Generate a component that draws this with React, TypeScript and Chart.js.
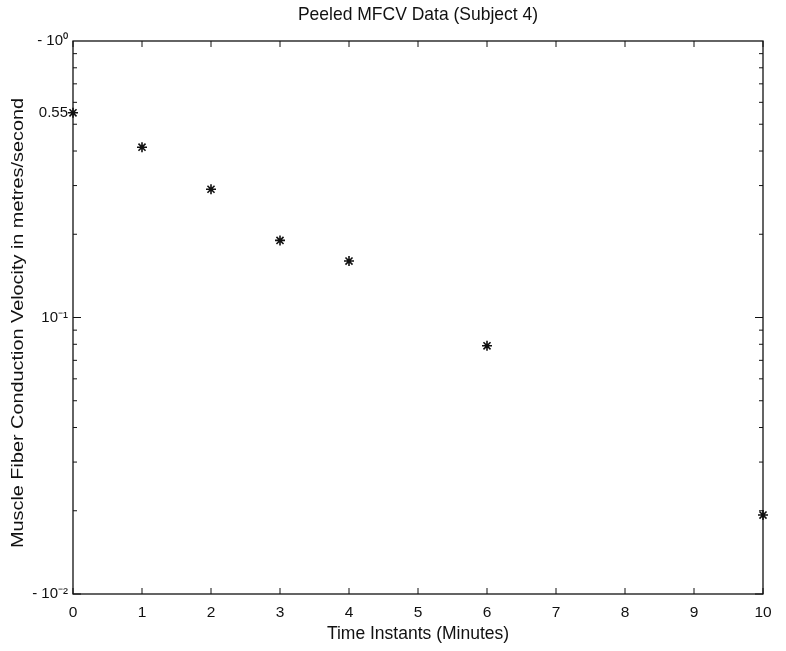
import React, { useEffect, useRef } from "react";
import { Chart, registerables } from "chart.js";

Chart.register(...registerables);

const chartTitle = "Peeled MFCV Data (Subject 4)";
const xAxisTitle = "Time Instants (Minutes)";
const yAxisTitle = "Muscle Fiber Conduction Velocity in metres/second";

const timeMinutes = [0, 1, 2, 3, 4, 6, 10];
const mfcv = [0.55, 0.413, 0.291, 0.19, 0.16, 0.079, 0.0193];

const xTicks = [0, 1, 2, 3, 4, 5, 6, 7, 8, 9, 10];
const yTickValues = [0.01, 0.1, 0.55, 1];
const yTickLabels = ["- 10\u207B\u00B2", "10\u207B\u00B9", "0.55", "- 10\u2070"];
const yDecades = [0.01, 0.1];
const yMinorMultipliers = [2, 3, 4, 5, 6, 7, 8, 9];

const FONT = "'Liberation Sans', Arial, sans-serif";

const frameTicks = {
  id: "frameTicks",
  afterDatasetsDraw(chart: any) {
    const { ctx, chartArea, scales } = chart;
    const { left, right, top, bottom } = chartArea;
    const xs = scales.x;
    const ys = scales.y;
    ctx.save();
    ctx.strokeStyle = "#111";
    ctx.lineWidth = 1.3;
    ctx.strokeRect(left, top, right - left, bottom - top);
    ctx.lineWidth = 1;
    ctx.beginPath();
    for (const v of xTicks) {
      const px = xs.getPixelForValue(v);
      ctx.moveTo(px, bottom);
      ctx.lineTo(px, bottom - 6);
      ctx.moveTo(px, top);
      ctx.lineTo(px, top + 6);
    }
    for (const d of yDecades) {
      const py = ys.getPixelForValue(d);
      ctx.moveTo(left, py);
      ctx.lineTo(left + 8, py);
      ctx.moveTo(right, py);
      ctx.lineTo(right - 8, py);
      for (const m of yMinorMultipliers) {
        const pm = ys.getPixelForValue(m * d);
        ctx.moveTo(left, pm);
        ctx.lineTo(left + 4, pm);
        ctx.moveTo(right, pm);
        ctx.lineTo(right - 4, pm);
      }
    }
    ctx.stroke();

    ctx.fillStyle = "#111";
    ctx.textAlign = "center";
    ctx.textBaseline = "middle";

    ctx.save();
    ctx.font = `17.5px ${FONT}`;
    ctx.translate((left + right) / 2, 15);
    ctx.scale(1, 1.1);
    ctx.fillText(chartTitle, 0, 0);
    ctx.restore();

    ctx.save();
    ctx.font = `16px ${FONT}`;
    const w = ctx.measureText(yAxisTitle).width;
    const target = 450;
    ctx.translate(19, 323);
    ctx.rotate(-Math.PI / 2);
    ctx.scale(target / w, 1);
    ctx.fillText(yAxisTitle, 0, 0);
    ctx.restore();
    ctx.restore();
  },
};

export default function App() {
  const ref = useRef<HTMLCanvasElement | null>(null);
  useEffect(() => {
    document.body.style.margin = "0";
    const canvas = ref.current;
    if (!canvas) return;
    const chart = new Chart(canvas, {
      type: "scatter",
      data: {
        datasets: [
          {
            label: "MFCV",
            data: timeMinutes.map((t, i) => ({ x: t, y: mfcv[i] })),
            pointStyle: "star",
            pointRadius: 5,
            pointBorderWidth: 1.6,
            borderColor: "#111",
            backgroundColor: "#111",
            showLine: false,
            clip: false as any,
          },
        ],
      },
      options: {
        responsive: false,
        animation: false,
        devicePixelRatio: 1,
        layout: { padding: { left: 0, right: 23, top: 41, bottom: 0 } },
        plugins: {
          legend: { display: false },
          tooltip: { enabled: false },
          title: { display: false },
        },
        scales: {
          x: {
            type: "linear",
            min: 0,
            max: 10,
            afterBuildTicks: (s: any) => {
              s.ticks = xTicks.map((v) => ({ value: v }));
            },
            afterFit: (s: any) => {
              s.height = 57;
            },
            grid: { display: false, drawTicks: false },
            border: { display: false },
            ticks: {
              color: "#111",
              font: { family: FONT, size: 15.5 },
              padding: 9,
              maxRotation: 0,
              autoSkip: false,
            },
            title: {
              display: true,
              text: xAxisTitle,
              color: "#111",
              font: { family: FONT, size: 17.5 },
              padding: { top: 0, bottom: 6 },
            },
          },
          y: {
            type: "logarithmic",
            min: 0.01,
            max: 1,
            afterBuildTicks: (s: any) => {
              s.ticks = yTickValues.map((v) => ({ value: v }));
            },
            afterFit: (s: any) => {
              s.width = 73;
            },
            grid: { display: false, drawTicks: false },
            border: { display: false },
            ticks: {
              color: "#111",
              font: { family: FONT, size: 15 },
              padding: 5,
              autoSkip: false,
              callback: (v: any) => {
                const i = yTickValues.indexOf(Number(v));
                return i >= 0 ? yTickLabels[i] : "";
              },
            },
            title: { display: false },
          },
        },
      },
      plugins: [frameTicks],
    });
    return () => chart.destroy();
  }, []);
  return <canvas ref={ref} width={786} height={651} style={{ display: "block" }} />;
}
